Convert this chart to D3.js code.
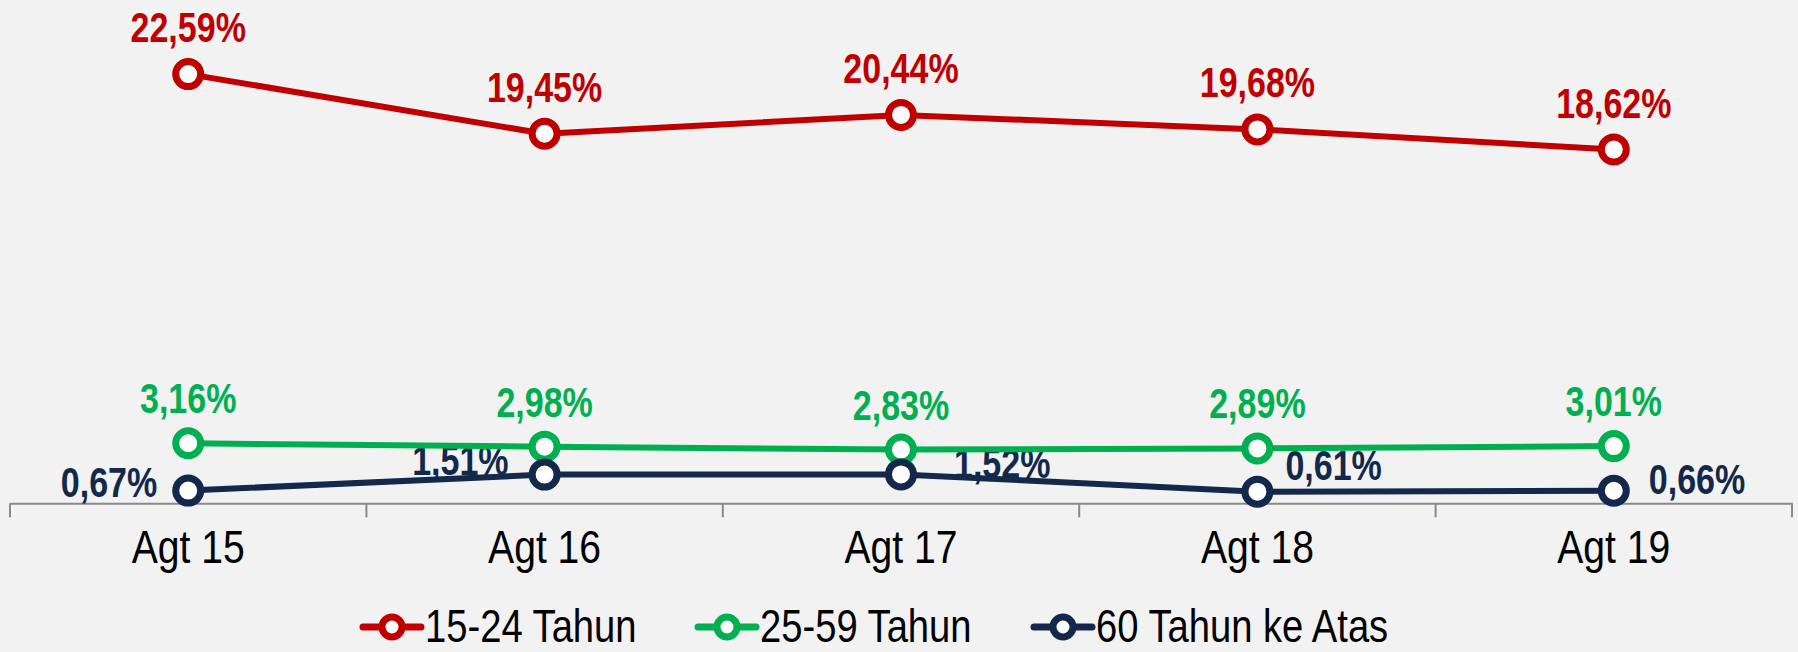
<!DOCTYPE html>
<html>
<head>
<meta charset="utf-8">
<script src="https://cdn.jsdelivr.net/npm/d3@7"></script>
<style>
  html, body { margin: 0; padding: 0; background: #F2F2F2; }
  svg { display: block; }
  text { font-family: "Liberation Sans", Arial, sans-serif; }
</style>
</head>
<body>
<svg id="chart" width="1798" height="652"></svg>
<script>
// Periods (August of each year)
const categories = ["Agt 15", "Agt 16", "Agt 17", "Agt 18", "Agt 19"];

// Open unemployment rate by age group (%)
const seriesNames = ["15-24 Tahun", "25-59 Tahun", "60 Tahun ke Atas"];
const youth   = [22.59, 19.45, 20.44, 19.68, 18.62];
const adult   = [3.16, 2.98, 2.83, 2.89, 3.01];
const elderly = [0.67, 1.51, 1.52, 0.61, 0.66];

const colors = ["#C00000", "#00B050", "#13284A"];

// Placement of the value labels of the lowest series (beside the marker)
const elderlyLabelDx = [-31, -36, 53, 28, 35];
const elderlyLabelDy = [6, 0, 4, -12, 3];

// Legend marker centres
const legendX = [392, 727, 1063];
const legendY = 627;

const svg = d3.select("#chart");

const x = d3.scaleBand().domain(categories).range([10, 1792]).padding(0);
const y = d3.scaleLinear().domain([0, 25]).range([503.3, 28.3]);
const cx = d => x(d) + x.bandwidth() / 2;

const fmt = v => d3.format(".2f")(v).replace(".", ",") + "%";

// Narrow (condensed) text helper
function place(sel, px, py, sx) {
  sel.attr("transform", `translate(${px},${py}) scale(${sx},1)`);
}

// ---- Category axis ----
const axisG = svg.append("g").attr("transform", `translate(0,${y(0)})`);
axisG.call(d3.axisBottom(x).tickSize(0).tickSizeOuter(0));
axisG.select(".domain").attr("stroke", "#898989").attr("stroke-width", 2);
axisG.selectAll(".tick text")
  .attr("y", null).attr("dy", null)
  .attr("font-size", 46)
  .attr("fill", "#000")
  .attr("font-family", "'Liberation Sans', Arial, sans-serif")
  .attr("transform", "translate(0,60) scale(0.85,1)");

// Tick marks on band boundaries
const bounds = categories.map(c => x(c)).concat([x.range()[1]]);
axisG.selectAll("line.bound")
  .data(bounds)
  .join("line")
  .attr("class", "bound")
  .attr("x1", d => d).attr("x2", d => d)
  .attr("y1", 0).attr("y2", 14)
  .attr("stroke", "#898989").attr("stroke-width", 2);

const series = [youth, adult, elderly].map((vals, i) => ({
  name: seriesNames[i],
  color: colors[i],
  points: vals.map((v, j) => ({ cat: categories[j], v, j }))
}));

// ---- Value labels (beneath lines) ----
const labelG = svg.append("g");
series.forEach((s, si) => {
  s.points.forEach(p => {
    const t = labelG.append("text")
      .attr("font-size", 42)
      .attr("font-weight", "bold")
      .attr("fill", s.color)
      .text(fmt(p.v));
    if (si < 2) {
      t.attr("text-anchor", "middle");
      place(t, cx(p.cat), y(p.v) - (si === 0 ? 32 : 30), 0.81);
    } else {
      const dx = elderlyLabelDx[p.j];
      t.attr("text-anchor", dx < 0 ? "end" : "start");
      place(t, cx(p.cat) + dx, y(p.v) + elderlyLabelDy[p.j], 0.81);
    }
  });
});

// ---- Lines and markers ----
const line = d3.line().x(d => cx(d.cat)).y(d => y(d.v));
series.forEach(s => {
  const g = svg.append("g");
  g.append("path")
    .datum(s.points)
    .attr("d", line)
    .attr("fill", "none")
    .attr("stroke", s.color)
    .attr("stroke-width", 6)
    .attr("stroke-linejoin", "round");
  g.selectAll("circle")
    .data(s.points)
    .join("circle")
    .attr("cx", d => cx(d.cat))
    .attr("cy", d => y(d.v))
    .attr("r", 12.5)
    .attr("fill", "#fff")
    .attr("stroke", s.color)
    .attr("stroke-width", 7);
});

// ---- Legend ----
const legendG = svg.append("g");
series.forEach((s, i) => {
  const g = legendG.append("g")
    .attr("transform", `translate(${legendX[i]},${legendY})`);
  g.append("line")
    .attr("x1", -29).attr("x2", 29)
    .attr("stroke", s.color).attr("stroke-width", 7)
    .attr("stroke-linecap", "round");
  g.append("circle")
    .attr("r", 10).attr("fill", "#fff")
    .attr("stroke", s.color).attr("stroke-width", 7);
  const t = g.append("text")
    .attr("font-size", 46)
    .attr("fill", "#000")
    .text(s.name);
  place(t, 33, 15, 0.83);
});
</script>
</body>
</html>
